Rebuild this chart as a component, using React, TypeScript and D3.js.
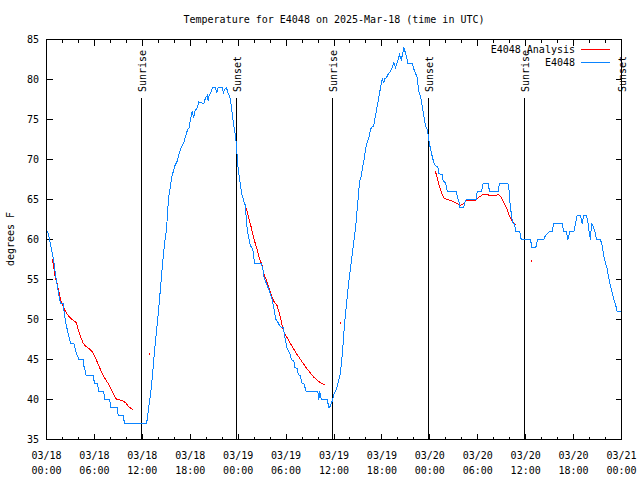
import React from "react";
import * as d3 from "d3";

const TITLE = "Temperature for E4048 on 2025-Mar-18 (time in UTC)";
const Y_LABEL = "degrees F";
const START = Date.UTC(2025, 2, 18, 0, 0);
const END = Date.UTC(2025, 2, 21, 0, 0);
const Y_MIN = 35;
const Y_MAX = 85;
const yTickValues = [35, 40, 45, 50, 55, 60, 65, 70, 75, 80, 85];

// Observations (hours since 03/18 00:00 UTC, degrees F)
const obsHours = [
  0.13, 0.38, 0.63, 0.91, 1.21, 1.47, 1.75, 2.09, 2.17, 2.25, 2.38, 2.5, 2.67, 2.84, 3.01, 3.42, 3.54, 3.72, 3.92, 4.04,
  4.6, 4.67, 4.8, 4.97, 5.85, 6.01, 6.35, 6.42, 6.55, 7.18, 7.26, 7.93, 8.01, 8.85, 8.98, 9.6, 9.77, 12.52, 12.61, 12.81,
  13.02, 13.27, 13.52, 13.77, 14.02, 14.28, 14.53, 14.78, 15.03, 15.19, 15.31, 15.53, 15.69, 15.82, 16.07, 16.37, 16.57, 16.78, 17.07, 17.19,
  17.41, 17.69, 17.87, 18.03, 18.24, 18.44, 18.57, 18.87, 19.07, 19.7, 19.91, 20.12, 20.25, 20.37, 20.54, 20.82, 21.16, 21.29, 21.5, 22.04,
  22.13, 22.33, 22.54, 22.75, 22.92, 23.04, 23.17, 23.33, 23.45, 23.67, 23.79, 23.88, 24.0, 24.29, 24.5, 24.71, 24.92, 25.04, 25.21, 25.42,
  25.54, 25.83, 26.05, 26.92, 27.09, 27.21, 27.42, 27.64, 27.84, 28.05, 28.26, 28.46, 28.68, 28.89, 29.21, 29.39, 29.64, 29.8, 29.93, 30.14,
  30.47, 30.68, 30.97, 31.09, 31.39, 31.52, 31.81, 31.93, 32.22, 32.52, 33.97, 34.1, 34.22, 34.4, 35.15, 35.35, 35.56, 35.77, 35.98, 36.31,
  36.6, 36.81, 37.07, 37.32, 37.57, 37.82, 38.07, 38.32, 38.57, 38.69, 38.82, 38.98, 39.11, 39.23, 39.41, 39.61, 39.73, 39.86, 40.03, 40.23,
  40.41, 40.57, 40.78, 40.98, 41.11, 41.29, 41.49, 41.7, 41.91, 42.04, 42.24, 42.36, 42.54, 42.86, 43.08, 43.29, 43.49, 43.7, 43.91, 44.04,
  44.2, 44.42, 44.62, 44.74, 44.95, 45.08, 45.24, 45.79, 45.99, 46.21, 46.42, 46.62, 46.83, 47.05, 47.25, 47.46, 47.67, 47.87, 48.08, 48.3,
  48.5, 48.8, 49.0, 49.12, 49.34, 49.55, 49.67, 49.96, 50.18, 51.3, 51.43, 51.63, 51.76, 52.25, 52.38, 52.55, 53.81, 53.93, 54.47, 54.68,
  55.31, 55.47, 56.56, 56.72, 57.76, 57.89, 58.01, 58.19, 58.35, 58.56, 58.79, 59.27, 59.44, 60.61, 60.77, 61.27, 61.48, 62.27, 62.48, 62.82,
  63.02, 63.32, 63.52, 64.57, 64.77, 65.11, 65.28, 65.53, 66.03, 66.24, 66.45, 66.87, 67.08, 67.28, 67.62, 67.83, 67.99, 68.12, 68.24, 68.46,
  68.66, 68.87, 69.37, 69.58, 69.79, 70.0, 70.21, 70.41, 70.62, 70.84, 71.04, 71.25, 71.46, 72.0,
];
const obsTemps = [
  61, 60, 58.8, 57.3, 55, 53.5, 52, 52, 51.3, 50.6, 49.8, 49.2, 48.4, 47.7, 47, 47, 46.5, 45.8, 45.4, 45,
  45, 44.2, 43.8, 43, 43, 42, 42, 41.7, 41, 41, 40, 40, 39, 39, 38, 38, 37, 37, 37.5, 39.2,
  40.5, 43, 46, 48.5, 51, 54, 57, 59.5, 61.3, 63.8, 65.4, 66.7, 67.9, 68.3, 69.2, 69.8, 70.6, 71.3, 71.9, 72.1,
  72.9, 73.8, 74, 75, 76, 75.2, 76, 76.5, 77.2, 77, 77.7, 78, 77.3, 78, 78.3, 79, 79, 78.3, 79, 79,
  78.3, 78.8, 79, 78.2, 78, 77.4, 76.4, 75.2, 74.2, 72.9, 71.7, 70.4, 68.8, 66.7, 65.5, 64.8, 64.2, 62.1, 60.8, 59.8,
  59.2, 58.8, 57, 57, 56.3, 55.4, 54.8, 54.2, 53.8, 53.1, 52.5, 51.5, 50.1, 49.8, 49.2, 49, 49, 48.1, 47.3, 46.3,
  45.8, 45, 44.8, 44, 43.9, 43.1, 43, 42.1, 42, 41, 41, 40, 41, 40, 40, 39, 39.2, 39.8, 40.6, 41.3,
  42.5, 43.3, 46, 49.5, 52, 54.5, 56.5, 58.5, 60.5, 61.3, 62.9, 64.6, 66.3, 67.3, 67.9, 69.2, 69.8, 70.6, 71.7, 72.3,
  72.9, 73.8, 74.1, 74.2, 75, 76, 77.1, 78.3, 79.4, 80.1, 79.6, 80.1, 80.2, 80.8, 81, 81.5, 82.1, 81.5, 82.1, 82.5,
  83.1, 82.5, 83.3, 84, 83.3, 82.9, 82, 82, 81.3, 80.8, 80.2, 78.5, 77.9, 76.7, 75.4, 74.2, 73.8, 72.5, 71.3, 70.4,
  69.6, 69.1, 69.1, 68.3, 68.1, 68.1, 67.3, 67.1, 66, 66, 65.4, 64.8, 64, 64, 64.6, 65, 65, 66, 66, 67,
  67, 66, 66, 67, 67, 66.5, 64.8, 63.3, 62.1, 62, 61, 61, 60, 60, 59, 59, 60, 60, 60.5, 60.8,
  61, 61, 62, 62, 61, 61, 60, 61, 61, 62, 63, 63, 62, 63, 63, 62, 60.6, 60, 62, 61.6,
  61, 60, 60, 59.2, 57.9, 57.1, 56.3, 55.2, 54.2, 53.3, 52.5, 51.9, 51, 51,
];

// Analysis (null = gap between runs)
const anaHours = [
  0.75, 1.04, 1.34, 1.54, 1.75, 2.04, 2.38, 2.79, 3.22, 3.76, 3.97, 4.26, 4.55, 4.88, 5.42, 5.72, 6.14, 6.55, 6.97, 7.39,
  7.8, 8.23, 8.64, 8.85, 9.48, 9.89, 10.31, 10.81, 11.0,
  24.79, 25.13, 25.33, 25.54, 25.76, 25.96, 26.17, 26.38, 26.58, 26.8, 27.01, 27.21, 27.42, 27.64, 27.84, 28.05, 28.26, 28.46, 28.89, 29.09,
  29.3, 29.51, 29.71, 30.14, 30.55, 30.97, 31.39, 31.81, 32.22, 32.64, 33.06, 33.47, 33.9, 34.31, 34.94, 35.0,
  48.71, 48.92, 49.12, 49.34, 49.55, 49.75, 50.18, 50.59, 51.0, 51.43, 51.84, 52.05, 52.25, 52.46, 52.88, 53.72, 54.01, 54.35, 54.76, 55.19,
  55.6, 56.01, 56.64, 56.85, 57.06, 57.26, 57.48, 57.69, 57.89, 58.1, 58.31, 58.52, 58.82,
];
const anaTemps = [
  57.5, 55.6, 54.4, 53.5, 52.5, 51.7, 51, 50.4, 50, 49.6, 48.75, 47.9, 47.1, 46.7, 46.3, 46, 45.2, 44.2, 43.3, 42.5,
  41.9, 41, 40.2, 40, 39.9, 39.6, 39.1, 38.7, null,
  64.5, 63.5, 62.7, 61.9, 61, 60.2, 59.4, 58.7, 57.9, 57.3, 56.7, 55.8, 55.2, 54.6, 54, 53.3, 52.7, 52.3, 51.7, 51,
  50.2, 49.2, 48.5, 47.7, 47, 46.3, 45.6, 45, 44.4, 43.8, 43.3, 42.8, 42.4, 42.1, 41.8, null,
  68.5, 67.7, 66.9, 66.25, 65.6, 65.2, 65, 64.9, 64.7, 64.5, 64.3, 64.4, 64.5, 64.8, 64.9, 64.9, 65.2, 65.4, 65.7, 65.6,
  65.5, 65.5, 65.6, 65.4, 65, 64.6, 64.2, 63.75, 63.1, 62.7, 62.3, 62.1, 61.75,
];
const anaDotHours = [12.81, 36.73, 60.73];
const anaDotTemps = [45.8, 49.7, 57.5];

const sunLabels = ["Sunrise", "Sunset", "Sunrise", "Sunset", "Sunrise", "Sunset"];
const sunHours = [11.93, 23.85, 35.81, 47.87, 59.89, 72.0];

const legendLabels = ["E4048 Analysis", "E4048"];
const seriesColors = ["#ff0000", "#0a84ff"];

const FONT = "'DejaVu Sans Mono', 'Liberation Mono', monospace";
const W = 640;
const H = 480;
const M = { left: 46.5, right: 621.5, top: 39.5, bottom: 439.5 };

const hourToDate = (h: number) => new Date(START + h * 3600 * 1000);

export default function App() {
  const x = d3.scaleUtc().domain([new Date(START), new Date(END)]).range([M.left, M.right]);
  const y = d3.scaleLinear().domain([Y_MIN, Y_MAX]).range([M.bottom, M.top]);

  const majorTicks = x.ticks(d3.utcHour.every(6)!);
  const minorTicks = x.ticks(d3.utcHour.every(2)!);
  const fmtDate = d3.utcFormat("%m/%d");
  const fmtTime = d3.utcFormat("%H:%M");

  type P = [number, number | null];
  const line = d3
    .line<P>()
    .defined((d) => d[1] !== null)
    .x((d) => x(hourToDate(d[0])))
    .y((d) => y(d[1] as number));

  const obsData: P[] = obsHours.map((h, i) => [h, obsTemps[i]]);
  const anaData: P[] = anaHours.map((h, i) => [h, anaTemps[i]]);

  const majorLen = 6;
  const minorLen = 3;

  return (
    <svg
      width={W}
      height={H}
      viewBox={`0 0 ${W} ${H}`}
      style={{ position: "absolute", left: 0, top: 0, background: "#fff" }}
      fontFamily={FONT}
      fontSize={10}
    >
      <rect x={0} y={0} width={W} height={H} fill="#fff" />
      {/* title */}
      <text x={(M.left + M.right) / 2} y={23} textAnchor="middle" fill="#000">
        {TITLE}
      </text>
      {/* y label */}
      <text transform={`translate(14,239) rotate(-90)`} textAnchor="middle" fill="#000">
        {Y_LABEL}
      </text>

      {/* ticks */}
      <g shapeRendering="crispEdges" stroke="#000">
        {yTickValues.map((v) => (
          <g key={v}>
            <line x1={M.left} x2={M.left + majorLen} y1={y(v)} y2={y(v)} />
            <line x1={M.right} x2={M.right - majorLen} y1={y(v)} y2={y(v)} />
          </g>
        ))}
        {minorTicks.map((t) => {
          const isMajor = t.getUTCHours() % 6 === 0;
          const len = isMajor ? majorLen : minorLen;
          return (
            <g key={+t}>
              <line x1={x(t)} x2={x(t)} y1={M.bottom} y2={M.bottom - len} />
              <line x1={x(t)} x2={x(t)} y1={M.top} y2={M.top + len} />
            </g>
          );
        })}
      </g>
      {yTickValues.map((v) => (
        <text key={v} x={39} y={y(v)} dy="0.35em" textAnchor="end" fill="#000">
          {v}
        </text>
      ))}
      {majorTicks.map((t) => (
        <g key={+t}>
          <text x={x(t)} y={459} textAnchor="middle" fill="#000">
            {fmtDate(t)}
          </text>
          <text x={x(t)} y={474} textAnchor="middle" fill="#000">
            {fmtTime(t)}
          </text>
        </g>
      ))}

      {/* sunrise / sunset */}
      {sunHours.map((h, i) => {
        const sx = Math.round(x(hourToDate(h)) - 0.5) + 0.5;
        return (
          <g key={i}>
            <line x1={sx} x2={sx} y1={98} y2={M.bottom} stroke="#000" shapeRendering="crispEdges" />
            <text
              transform={`translate(${sx + 4.5},92) rotate(-90)`}
              textAnchor="start"
              fill="#000"
            >
              {sunLabels[i]}
            </text>
          </g>
        );
      })}

      {/* series */}
      <path d={line(anaData) || ""} fill="none" stroke={seriesColors[0]} strokeWidth={1} shapeRendering="crispEdges" />
      {anaDotHours.map((h, i) => (
        <rect
          key={i}
          x={Math.round(x(hourToDate(h)))}
          y={Math.round(y(anaDotTemps[i]))}
          width={1}
          height={2}
          fill={seriesColors[0]}
        />
      ))}
      <path d={line(obsData) || ""} fill="none" stroke={seriesColors[1]} strokeWidth={1} shapeRendering="crispEdges" />

      {/* frame */}
      <rect
        x={M.left}
        y={M.top}
        width={M.right - M.left}
        height={M.bottom - M.top}
        fill="none"
        stroke="#000"
        shapeRendering="crispEdges"
      />

      {/* legend */}
      {legendLabels.map((lab, i) => {
        const ly = 49.5 + i * 13;
        return (
          <g key={lab}>
            <text x={575} y={ly} dy="0.35em" textAnchor="end" fill="#000">
              {lab}
            </text>
            <line x1={581} x2={610} y1={ly} y2={ly} stroke={seriesColors[i]} shapeRendering="crispEdges" />
          </g>
        );
      })}
    </svg>
  );
}
